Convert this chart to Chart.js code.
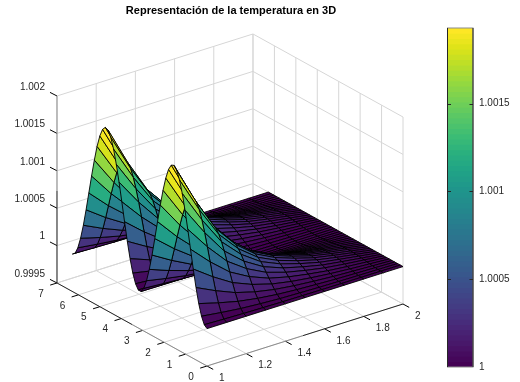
<!doctype html>
<html lang="en">
<head>
<meta charset="utf-8">
<title>Representación de la temperatura en 3D</title>
<script src="https://cdn.jsdelivr.net/npm/chart.js@4"></script>
<style>
  html, body { margin: 0; background: #fff; }
  canvas { position: absolute; top: 0; }
  #surface { left: 0; }
  #colorbar { left: 420px; }
</style>
</head>
<body>
<canvas id="surface" width="520" height="382"></canvas>
<canvas id="colorbar" width="100" height="382"></canvas>
<script>
const titleText = 'Representación de la temperatura en 3D';

// surface grid
const xValues = [1, 1.1, 1.2, 1.3, 1.4, 1.5, 1.6, 1.7, 1.8, 1.9, 2];
const yValues = [0, 0.128, 0.256, 0.385, 0.513, 0.641, 0.769, 0.898, 1.026, 1.154,
  1.282, 1.411, 1.539, 1.667, 1.795, 1.923, 2.052, 2.18, 2.308, 2.436,
  2.565, 2.693, 2.821, 2.949, 3.077, 3.206, 3.334, 3.462, 3.59, 3.719,
  3.847, 3.975, 4.103, 4.232, 4.36, 4.488, 4.616, 4.744, 4.873, 5.001,
  5.129, 5.257, 5.386, 5.514, 5.642, 5.77, 5.899, 6.027, 6.155, 6.283];
const zBase = 1;
const zUnit = 1e-6;
// one row per y value, one column per x value, in millionths above zBase
const zRows = [
  [0, 0, 0, 0, 0, 0, 0, 0, 0, 0, 0],
  [32, 23, 16, 11, 7, 5, 4, 2, 2, 1, 0],
  [125, 91, 62, 43, 29, 21, 14, 9, 6, 3, 0],
  [273, 200, 137, 94, 64, 45, 32, 21, 13, 7, 0],
  [467, 342, 234, 161, 110, 77, 54, 35, 23, 11, 0],
  [694, 508, 347, 240, 163, 114, 80, 53, 34, 17, 0],
  [939, 687, 469, 324, 220, 155, 109, 71, 45, 23, 0],
  [1186, 868, 593, 410, 278, 196, 138, 90, 57, 29, 0],
  [1419, 1038, 709, 490, 333, 234, 165, 107, 69, 34, 0],
  [1623, 1188, 812, 561, 381, 268, 188, 123, 79, 39, 0],
  [1783, 1305, 891, 616, 418, 294, 207, 135, 86, 43, 0],
  [1891, 1384, 946, 653, 444, 312, 219, 143, 92, 46, 0],
  [1938, 1419, 969, 669, 455, 320, 225, 147, 94, 47, 0],
  [1922, 1407, 961, 664, 451, 317, 223, 146, 93, 47, 0],
  [1844, 1350, 922, 637, 433, 304, 214, 140, 89, 45, 0],
  [1708, 1250, 854, 590, 400, 282, 198, 129, 83, 41, 0],
  [1525, 1116, 763, 527, 358, 252, 177, 116, 74, 37, 0],
  [1306, 956, 653, 451, 306, 215, 151, 99, 63, 32, 0],
  [1065, 780, 533, 368, 250, 176, 124, 81, 52, 26, 0],
  [818, 599, 409, 283, 192, 135, 95, 62, 40, 20, 0],
  [577, 423, 289, 199, 135, 95, 67, 44, 28, 14, 0],
  [365, 267, 183, 126, 86, 60, 42, 28, 18, 9, 0],
  [193, 141, 96, 67, 45, 32, 22, 15, 9, 5, 0],
  [71, 52, 36, 25, 17, 12, 8, 5, 3, 2, 0],
  [8, 6, 4, 3, 2, 1, 1, 1, 0, 0, 0],
  [8, 6, 4, 3, 2, 1, 1, 1, 0, 0, 0],
  [71, 52, 36, 25, 17, 12, 8, 5, 3, 2, 0],
  [193, 141, 96, 67, 45, 32, 22, 15, 9, 5, 0],
  [365, 267, 183, 126, 86, 60, 42, 28, 18, 9, 0],
  [577, 423, 289, 199, 135, 95, 67, 44, 28, 14, 0],
  [818, 599, 409, 283, 192, 135, 95, 62, 40, 20, 0],
  [1065, 780, 533, 368, 250, 176, 124, 81, 52, 26, 0],
  [1306, 956, 653, 451, 306, 215, 151, 99, 63, 32, 0],
  [1525, 1116, 763, 527, 358, 252, 177, 116, 74, 37, 0],
  [1708, 1250, 854, 590, 400, 282, 198, 129, 83, 41, 0],
  [1844, 1350, 922, 637, 433, 304, 214, 140, 89, 45, 0],
  [1922, 1407, 961, 664, 451, 317, 223, 146, 93, 47, 0],
  [1938, 1419, 969, 669, 455, 320, 225, 147, 94, 47, 0],
  [1891, 1384, 946, 653, 444, 312, 219, 143, 92, 46, 0],
  [1783, 1305, 891, 616, 418, 294, 207, 135, 86, 43, 0],
  [1623, 1188, 812, 561, 381, 268, 188, 123, 79, 39, 0],
  [1419, 1038, 709, 490, 333, 234, 165, 107, 69, 34, 0],
  [1186, 868, 593, 410, 278, 196, 138, 90, 57, 29, 0],
  [939, 687, 469, 324, 220, 155, 109, 71, 45, 23, 0],
  [694, 508, 347, 240, 163, 114, 80, 53, 34, 17, 0],
  [467, 342, 234, 161, 110, 77, 54, 35, 23, 11, 0],
  [273, 200, 137, 94, 64, 45, 32, 21, 13, 7, 0],
  [125, 91, 62, 43, 29, 21, 14, 9, 6, 3, 0],
  [32, 23, 16, 11, 7, 5, 4, 2, 2, 1, 0],
  [0, 0, 0, 0, 0, 0, 0, 0, 0, 0, 0]
];

// tick labels
const xTicks = [1, 1.2, 1.4, 1.6, 1.8, 2];
const xLabels = ['1', '1.2', '1.4', '1.6', '1.8', '2'];
const yTicks = [0, 1, 2, 3, 4, 5, 6, 7];
const yLabels = ['0', '1', '2', '3', '4', '5', '6', '7'];
const zTicks = [0.9995, 1, 1.0005, 1.001, 1.0015, 1.002];
const zLabels = ['0.9995', '1', '1.0005', '1.001', '1.0015', '1.002'];
const barTicks = [1, 1.0005, 1.001, 1.0015];
const barLabels = ['1', '1.0005', '1.001', '1.0015'];
const barMin = 1;
const barMax = 1.00193;

const viridis = ['#440154', '#481467', '#482576', '#453781', '#404688', '#39558c', '#33638d',
  '#2d718e', '#287d8e', '#238a8d', '#1f968b', '#20a386', '#29af7f', '#3cbc75', '#56c667',
  '#74d055', '#94d840', '#b8de29', '#dce318', '#fde725'];
const LEVELS = 64;

const INK = '#262626';
const AXIS_GRAY = '#8c8c8c';
const GRID = '#d6d6d6';
const FONT = '"Liberation Sans", Arial, sans-serif';

function levelColor(k) {
  var t = k / (LEVELS - 1) * (viridis.length - 1);
  var a = Math.floor(t), b = Math.min(a + 1, viridis.length - 1), f = t - a;
  var p = parseInt(viridis[a].slice(1), 16), q = parseInt(viridis[b].slice(1), 16);
  var mix = function (s) {
    return Math.round(((p >> s) & 255) * (1 - f) + ((q >> s) & 255) * f);
  };
  return 'rgb(' + mix(16) + ',' + mix(8) + ',' + mix(0) + ')';
}

function colorFor(z) {
  var k = Math.floor((z - barMin) / (barMax - barMin) * LEVELS);
  return levelColor(Math.max(0, Math.min(LEVELS - 1, k)));
}

// fixed view of the box: where one unit of each axis lands on the canvas
function project(x, y, z) {
  return {
    x: 207 + 196 * (x - 1) - 21.43 * y,
    y: 366 - 62 * (x - 1) - 11.86 * y - 74800 * (z - 0.9995)
  };
}

// the first dataset in the list is drawn on top, so front goes in first
var front = [], back = [];

function segment(list, p, q, color, width) {
  list.push({
    data: [p, q], showLine: true, fill: false, pointRadius: 0,
    borderColor: color, borderWidth: width === undefined ? 1 : width
  });
}

function zAt(j, i) {
  return zBase + zRows[j][i] * zUnit;
}

// surface cells, nearest corner first
for (var j = 0; j < yValues.length - 1; j++) {
  for (var i = 0; i < xValues.length - 1; i++) {
    var y0 = yValues[j], y1 = yValues[j + 1], x0 = xValues[i], x1 = xValues[i + 1];
    var corner = project(x0, y0, zAt(j, i));
    front.push({
      data: [corner, project(x1, y0, zAt(j, i + 1)), project(x1, y1, zAt(j + 1, i + 1)),
        project(x0, y1, zAt(j + 1, i)), corner],
      showLine: true, fill: 'shape', pointRadius: 0,
      backgroundColor: colorFor(zAt(j, i)), borderColor: '#000', borderWidth: 0.9
    });
  }
}

var zLow = zTicks[0], zHigh = zTicks[zTicks.length - 1];
var yEnd = yTicks[yTicks.length - 1], xStart = xTicks[0], xEnd = xTicks[xTicks.length - 1];

// axis lines and tick marks
segment(back, project(xStart, yEnd, zLow), project(xStart, yEnd, 1.00073), INK);
segment(back, project(xStart, yEnd, 1.00073), project(xStart, yEnd, zHigh), AXIS_GRAY);
segment(back, project(xStart, yEnd, zLow), project(xStart, 3.5, zLow), INK);
segment(back, project(xStart, 3.5, zLow), project(xStart, 0, zLow), AXIS_GRAY);
segment(back, project(xEnd, 0, zLow), project(1.49, 0, zLow), INK);
segment(back, project(1.49, 0, zLow), project(xStart, 0, zLow), AXIS_GRAY);

xTicks.forEach(function (v) {
  var p = project(v, 0, zLow);
  segment(back, p, {x: p.x + 6.2, y: p.y + 3.4}, '#000');
});
yTicks.forEach(function (v) {
  var p = project(xStart, v, zLow);
  segment(back, p, {x: p.x - 6.8, y: p.y + 2.1}, '#000');
});
zTicks.forEach(function (v) {
  var p = project(xStart, yEnd, v);
  segment(back, p, {x: p.x - 7, y: p.y - 3.6}, '#000');
});

// grid on the floor and the two back walls
xTicks.forEach(function (v) {
  segment(back, project(v, 0, zLow), project(v, yEnd, zLow), GRID);
  segment(back, project(v, yEnd, zLow), project(v, yEnd, zHigh), GRID);
});
yTicks.forEach(function (v) {
  segment(back, project(xStart, v, zLow), project(xEnd, v, zLow), GRID);
  segment(back, project(xEnd, v, zLow), project(xEnd, v, zHigh), GRID);
});
zTicks.forEach(function (v) {
  segment(back, project(xStart, yEnd, v), project(xEnd, yEnd, v), GRID);
  segment(back, project(xEnd, yEnd, v), project(xEnd, 0, v), GRID);
});

var boxText = {
  id: 'boxText',
  afterDraw: function (chart) {
    var c = chart.ctx, sx = chart.scales.x, sy = chart.scales.y;
    function put(text, p, dx, dy, align) {
      c.textAlign = align;
      c.fillText(text, sx.getPixelForValue(p.x) + dx, sy.getPixelForValue(p.y) + dy);
    }
    c.save();
    c.textBaseline = 'middle';
    c.fillStyle = INK;
    c.font = '10px ' + FONT;
    xTicks.forEach(function (v, k) { put(xLabels[k], project(v, 0, zLow), 12, 12, 'left'); });
    yTicks.forEach(function (v, k) { put(yLabels[k], project(xStart, v, zLow), -16, 11, 'center'); });
    zTicks.forEach(function (v, k) { put(zLabels[k], project(xStart, yEnd, v), -12, -9, 'right'); });
    c.fillStyle = '#000';
    c.font = 'bold 11px ' + FONT;
    c.textAlign = 'center';
    c.fillText(titleText, 231, 11);
    c.restore();
  }
};

new Chart(document.getElementById('surface'), {
  type: 'scatter',
  data: { datasets: front.concat(back) },
  options: {
    responsive: false,
    animation: false,
    events: [],
    layout: { padding: 0 },
    plugins: { legend: { display: false }, tooltip: { enabled: false } },
    scales: {
      x: { type: 'linear', display: false, min: 0, max: 520 },
      y: { type: 'linear', display: false, min: 0, max: 382, reverse: true }
    }
  },
  plugins: [boxText]
});

// colour bar
var barSets = [];
for (var k = LEVELS - 1; k >= 0; k--) {
  barSets.push({
    data: [[barMin + (barMax - barMin) * k / LEVELS, barMax]],
    backgroundColor: levelColor(k), borderWidth: 0,
    barPercentage: 1, categoryPercentage: 1, grouped: false
  });
}

var barFrame = {
  id: 'barFrame',
  afterDatasetsDraw: function (chart) {
    var c = chart.ctx, a = chart.chartArea, s = chart.scales.y;
    c.save();
    c.lineWidth = 1;
    c.strokeStyle = AXIS_GRAY;
    c.strokeRect(a.left, a.top, a.right - a.left, a.bottom - a.top);
    c.strokeStyle = INK;
    c.beginPath();
    c.moveTo(a.left, a.top); c.lineTo(a.left, a.bottom);
    c.moveTo(a.right, a.top); c.lineTo(a.right, a.bottom);
    barTicks.slice(1).forEach(function (v) {
      var p = Math.round(s.getPixelForValue(v)) + 0.5;
      c.moveTo(a.left, p); c.lineTo(a.left + 3.5, p);
      c.moveTo(a.right, p); c.lineTo(a.right - 3.5, p);
    });
    c.stroke();
    c.restore();
  }
};

new Chart(document.getElementById('colorbar'), {
  type: 'bar',
  data: { labels: ['T'], datasets: barSets },
  options: {
    responsive: false,
    animation: false,
    events: [],
    layout: { padding: { left: 27.5, top: 28, bottom: 15, right: 0 } },
    plugins: { legend: { display: false }, tooltip: { enabled: false } },
    scales: {
      x: { display: false },
      y: {
        position: 'right',
        min: barMin,
        max: barMax,
        grid: { display: false, tickLength: 0 },
        border: { display: false },
        afterBuildTicks: function (axis) {
          axis.ticks = barTicks.map(function (v) { return { value: v }; });
        },
        afterFit: function (axis) { axis.width = 47; },
        ticks: {
          autoSkip: false,
          padding: 6,
          color: INK,
          font: { family: FONT, size: 10 },
          callback: function (v) { return barLabels[barTicks.indexOf(v)]; }
        }
      }
    }
  },
  plugins: [barFrame]
});
</script>
</body>
</html>
